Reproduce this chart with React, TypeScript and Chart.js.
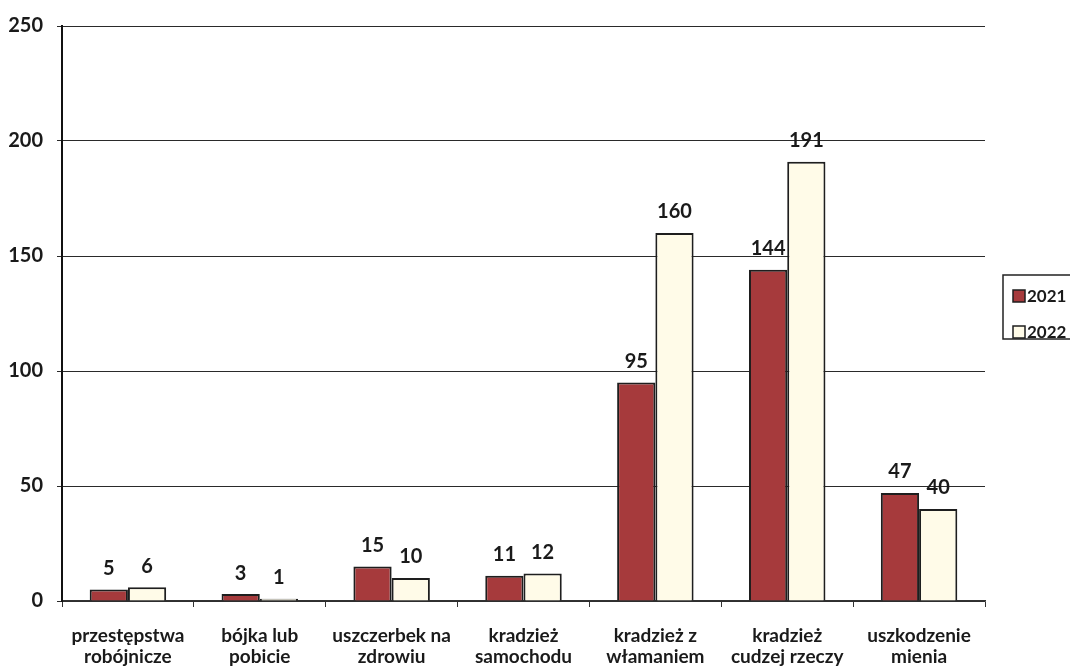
import React, { useEffect, useRef } from "react";
import { Chart, registerables } from "chart.js";

Chart.register(...registerables);

const categories: string[][] = [
  ["przestępstwa", "robójnicze"],
  ["bójka lub", "pobicie"],
  ["uszczerbek na", "zdrowiu"],
  ["kradzież", "samochodu"],
  ["kradzież z", "włamaniem"],
  ["kradzież", "cudzej rzeczy"],
  ["uszkodzenie", "mienia"],
];
const values2021 = [5, 3, 15, 11, 95, 144, 47];
const values2022 = [6, 1, 10, 12, 160, 191, 40];
const seriesLabels = ["2021", "2022"];
const yTicks = [0, 50, 100, 150, 200, 250];

const FONT = "Lato, 'Open Sans', sans-serif";
const RED = "#a63a3c";
const CREAM = "#fffbe8";
const EDGE = "#1e1e1e";

const valueLabels = {
  id: "valueLabels",
  afterDatasetsDraw(chart: any) {
    const ctx = chart.ctx;
    ctx.save();
    ctx.font = `bold 20px ${FONT}`;
    ctx.fillStyle = "#1a1a1a";
    ctx.textAlign = "center";
    ctx.textBaseline = "bottom";
    chart.data.datasets.forEach((ds: any, i: number) => {
      const meta = chart.getDatasetMeta(i);
      meta.data.forEach((bar: any, j: number) => {
        ctx.fillText(String(ds.data[j]), bar.x, bar.y - 11);
      });
    });
    ctx.restore();
  },
};

const customLegend = {
  id: "customLegend",
  afterDraw(chart: any) {
    const ctx = chart.ctx;
    ctx.save();
    const x0 = 1003;
    const y0 = 275;
    ctx.strokeStyle = "#222";
    ctx.lineWidth = 1.5;
    ctx.strokeRect(x0, y0, 80, 64);
    ctx.font = `bold 17px ${FONT}`;
    ctx.textBaseline = "middle";
    ctx.textAlign = "left";
    chart.data.datasets.forEach((ds: any, i: number) => {
      const cy = y0 + 21 + i * 36;
      ctx.fillStyle = ds.backgroundColor;
      ctx.fillRect(x0 + 10, cy - 6, 12, 12);
      ctx.strokeStyle = EDGE;
      ctx.lineWidth = 1.5;
      ctx.strokeRect(x0 + 10, cy - 6, 12, 12);
      ctx.fillStyle = "#1a1a1a";
      ctx.fillText(ds.label, x0 + 24, cy + 1);
    });
    ctx.restore();
  },
};

export default function App() {
  const ref = useRef<HTMLCanvasElement>(null);
  useEffect(() => {
    if (!ref.current) return;
    const chart = new Chart(ref.current, {
      type: "bar",
      data: {
        labels: categories,
        datasets: [
          {
            label: seriesLabels[0],
            data: values2021,
            backgroundColor: RED,
            borderColor: EDGE,
            borderWidth: 2,
            borderSkipped: "bottom",
            categoryPercentage: 0.58,
            barPercentage: 1,
          },
          {
            label: seriesLabels[1],
            data: values2022,
            backgroundColor: CREAM,
            borderColor: EDGE,
            borderWidth: 2,
            borderSkipped: "bottom",
            categoryPercentage: 0.58,
            barPercentage: 1,
          },
        ],
      },
      options: {
        animation: false,
        responsive: false,
        devicePixelRatio: 1,
        layout: { padding: { left: 0, top: 23, right: 85, bottom: 0 } },
        plugins: {
          legend: { display: false },
          tooltip: { enabled: false },
        },
        scales: {
          x: {
            grid: {
              display: true,
              offset: true,
              drawOnChartArea: false,
              drawTicks: true,
              tickLength: 6,
              color: "#333",
              lineWidth: 1,
            },
            border: { display: true, color: "#333", width: 1.5 },
            ticks: {
              color: "#1a1a1a",
              font: { family: FONT, size: 19, weight: "bold", lineHeight: 1.12 },
              padding: 18,
              maxRotation: 0,
              autoSkip: false,
            },
            afterFit: (s: any) => {
              s.height = 66;
            },
          },
          y: {
            min: 0,
            max: 250,
            afterBuildTicks: (s: any) => {
              s.ticks = yTicks.map((v) => ({ value: v }));
            },
            grid: {
              color: "#2a2a2a",
              lineWidth: 1,
              tickLength: 5,
              drawTicks: true,
            },
            border: { display: true, color: "#111", width: 2 },
            ticks: {
              color: "#1a1a1a",
              font: { family: FONT, size: 20, weight: "bold" },
              padding: 14,
            },
            afterFit: (s: any) => {
              s.width = 62;
            },
          },
        },
      },
      plugins: [valueLabels, customLegend],
    });
    return () => chart.destroy();
  }, []);
  return (
    <div style={{ position: "fixed", left: 0, top: 0, width: 1070, height: 667, background: "#fff" }}>
      <canvas ref={ref} width={1070} height={667} style={{ width: 1070, height: 667 }} />
    </div>
  );
}
